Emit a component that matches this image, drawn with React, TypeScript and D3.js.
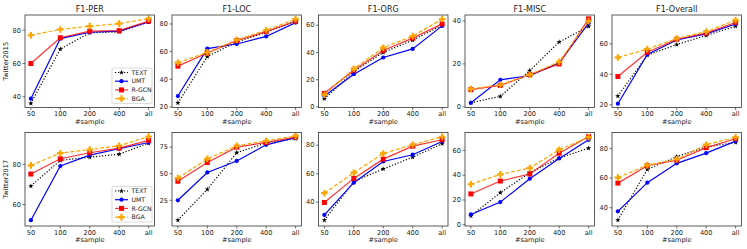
import React from "react";
import * as d3 from "d3";

const categories = ["50", "100", "200", "400", "all"];
const seriesNames = ["TEXT", "UMT", "R-GCN", "BGA"];
const metrics = ["F1-PER", "F1-LOC", "F1-ORG", "F1-MISC", "F1-Overall"];
const datasets = ["Twitter2015", "Twitter2017"];

// Twitter2015: rows = TEXT, UMT, R-GCN, BGA
const tw15PER = [
  [36, 68.7, 78.5, 79, 85],
  [38.8, 75, 78.8, 79.5, 85],
  [60, 75.5, 79.5, 79.8, 85.5],
  [77, 80.5, 82.5, 84, 87],
];
const tw15LOC = [
  [22.9, 56.4, 67, 74, 82],
  [27.9, 62.2, 65.5, 71, 81],
  [49.5, 59, 68, 74.5, 82],
  [52, 59.5, 68.5, 75.5, 83.5],
];
const tw15ORG = [
  [6, 26, 40, 49, 60],
  [8, 24, 36.3, 42.6, 59.5],
  [10, 27, 41.5, 50.5, 61],
  [9, 28, 43.5, 52, 64.5],
];
const tw15MISC = [
  [1.9, 4.9, 16.9, 30.2, 37.5],
  [1.9, 12.6, 14.5, 20.5, 39],
  [8, 10, 15, 20, 41],
  [8.3, 10.3, 15, 21, 40],
];
const tw15ALL = [
  [25.7, 52.5, 59.5, 65.5, 71.5],
  [20.7, 53, 62.5, 66.5, 73],
  [38.5, 54.5, 63, 67, 74],
  [51, 56.5, 63.5, 68, 75.5],
];
// Twitter2017
const tw17PER = [
  [69.2, 82, 83.6, 85.1, 90.6],
  [52.2, 79.2, 84.6, 87.8, 90.9],
  [75.2, 82.8, 85.8, 88.1, 92],
  [79.5, 85.6, 87.4, 89.3, 93.9],
];
const tw17LOC = [
  [6.3, 35.3, 69.8, 79, 83],
  [25, 51.2, 62, 77.2, 84],
  [42.9, 60.6, 75, 79.5, 84.5],
  [46, 64, 76.3, 81, 85.5],
];
const tw17ORG = [
  [27.4, 54.6, 63.3, 71.6, 81],
  [31.1, 53.7, 68.6, 73.3, 82.6],
  [39.8, 56.7, 70.2, 79.3, 83.8],
  [46.3, 60.7, 74.2, 80.3, 85.9],
];
const tw17MISC = [
  [7.2, 25.9, 42, 54, 61.8],
  [8.3, 18.3, 37.2, 53.6, 68.6],
  [24.9, 35.3, 41, 57.8, 71.2],
  [32.7, 40.7, 45.8, 60.6, 70.7],
];
const tw17ALL = [
  [31.7, 65.8, 74.5, 81, 84],
  [37.6, 56.9, 69.9, 76.8, 84.9],
  [56.6, 68.3, 72, 80.5, 86.5],
  [60.3, 68.7, 72.7, 82.5, 87.5],
];

const panelData = [
  [tw15PER, tw15LOC, tw15ORG, tw15MISC, tw15ALL],
  [tw17PER, tw17LOC, tw17ORG, tw17MISC, tw17ALL],
];
const yDomains = [
  [[33.5, 89.2], [19.6, 86.5], [-0.4, 67.5], [-0.3, 42.8], [18.2, 78.9]],
  [[49.3, 95.9], [0.8, 88.8], [23.3, 88.9], [-1, 74.5], [27.7, 90.7]],
];
const yTicks = [
  [[40, 60, 80], [20, 40, 60, 80], [0, 20, 40, 60], [0, 20, 40], [20, 40, 60]],
  [[60, 80], [25, 50, 75], [40, 60, 80], [0, 20, 40, 60], [40, 60, 80]],
];

const styles = [
  { color: "#000000", dash: "1.2,1.8", symbol: d3.symbolStar, size: 9, lineOpacity: 1 },
  { color: "#0000ff", dash: null, symbol: d3.symbolCircle, size: 14, lineOpacity: 1 },
  { color: "#ff0000", dash: null, symbol: d3.symbolSquare, size: 25, lineOpacity: 0.8 },
  { color: "#ffa500", dash: "4,2", symbol: d3.symbolCross, size: 24, lineOpacity: 1 },
];

const colLefts = [25, 172, 318.5, 465, 612];
const axW = 129.5;
const rowTops = [15, 132.5];
const axH = [92.5, 93.5];
const FONT = "DejaVu Sans, sans-serif";

function Panel({ r, c }: { r: number; c: number }) {
  const x0 = colLefts[c];
  const y0 = rowTops[r];
  const h = axH[r];
  const x = d3.scalePoint<string>().domain(categories).range([0, axW]).padding(0.2);
  const y = d3.scaleLinear().domain(yDomains[r][c]).range([h, 0]);
  const line = d3
    .line<number>()
    .x((_, i) => x(categories[i]) as number)
    .y((d) => y(d));
  const data = panelData[r][c];
  return (
    <g transform={`translate(${x0},${y0})`}>
      {data.map((vals, si) => {
        const st = styles[si];
        return (
          <g key={si}>
            <path
              d={line(vals) || ""}
              fill="none"
              stroke={st.color}
              strokeWidth={1.2}
              strokeOpacity={st.lineOpacity}
              strokeDasharray={st.dash || undefined}
            />
            {vals.map((v, i) => (
              <path
                key={i}
                transform={`translate(${x(categories[i])},${y(v)})`}
                d={d3.symbol().type(st.symbol).size(st.size)() || ""}
                fill={st.color}
              />
            ))}
          </g>
        );
      })}
      <rect x={0} y={0} width={axW} height={h} fill="none" stroke="#333" strokeWidth={0.8} />
      {categories.map((cat) => (
        <g key={cat} transform={`translate(${x(cat)},${h})`}>
          <line y1={0} y2={2.5} stroke="#333" strokeWidth={0.7} />
          <text y={8.8} textAnchor="middle" fontSize={6.6} fontFamily={FONT} fill="#222">
            {cat}
          </text>
        </g>
      ))}
      {yTicks[r][c].map((t) => (
        <g key={t} transform={`translate(0,${y(t)})`}>
          <line x1={-2.5} x2={0} stroke="#333" strokeWidth={0.7} />
          <text x={-4} dy="0.34em" textAnchor="end" fontSize={6.6} fontFamily={FONT} fill="#222">
            {t}
          </text>
        </g>
      ))}
      <text x={axW / 2} y={h + 16.2} textAnchor="middle" fontSize={6.6} fontFamily={FONT} fill="#222">
        #sample
      </text>
      {r === 0 && (
        <text x={axW / 2} y={-3.5} textAnchor="middle" fontSize={8} fontFamily={FONT} fill="#222">
          {metrics[c]}
        </text>
      )}
      {c === 0 && (
        <text
          transform={`translate(${-17},${h / 2}) rotate(-90)`}
          textAnchor="middle"
          fontSize={6.6}
          fontFamily={FONT}
          fill="#222"
        >
          {datasets[r]}
        </text>
      )}
      {c === 0 && <Legend h={h} />}
    </g>
  );
}

function Legend({ h }: { h: number }) {
  const bx = 87;
  const bw = 40;
  const bh = 35.5;
  const by = h - 4 - bh;
  const rowGap = 8.7;
  return (
    <g>
      <rect x={bx} y={by} width={bw} height={bh} rx={1.5} fill="#fff" fillOpacity={0.85} stroke="#ccc" strokeWidth={0.7} />
      {seriesNames.map((name, i) => {
        const st = styles[i];
        const yy = by + 4.5 + i * rowGap;
        return (
          <g key={name}>
            <line
              x1={bx + 3}
              x2={bx + 16}
              y1={yy}
              y2={yy}
              stroke={st.color}
              strokeWidth={1.2}
              strokeOpacity={st.lineOpacity}
              strokeDasharray={st.dash || undefined}
            />
            <path
              transform={`translate(${bx + 9.5},${yy})`}
              d={d3.symbol().type(st.symbol).size(st.size)() || ""}
              fill={st.color}
            />
            <text x={bx + 19.5} y={yy} dy="0.34em" fontSize={6.2} fontFamily={FONT} fill="#222">
              {name}
            </text>
          </g>
        );
      })}
    </g>
  );
}

export default function App() {
  return (
    <svg width={747} height={249} style={{ position: "absolute", left: 0, top: 0, background: "#fff" }}>
      <rect width={747} height={249} fill="#fff" />
      {[0, 1].map((r) =>
        [0, 1, 2, 3, 4].map((c) => <Panel key={`${r}-${c}`} r={r} c={c} />)
      )}
    </svg>
  );
}
